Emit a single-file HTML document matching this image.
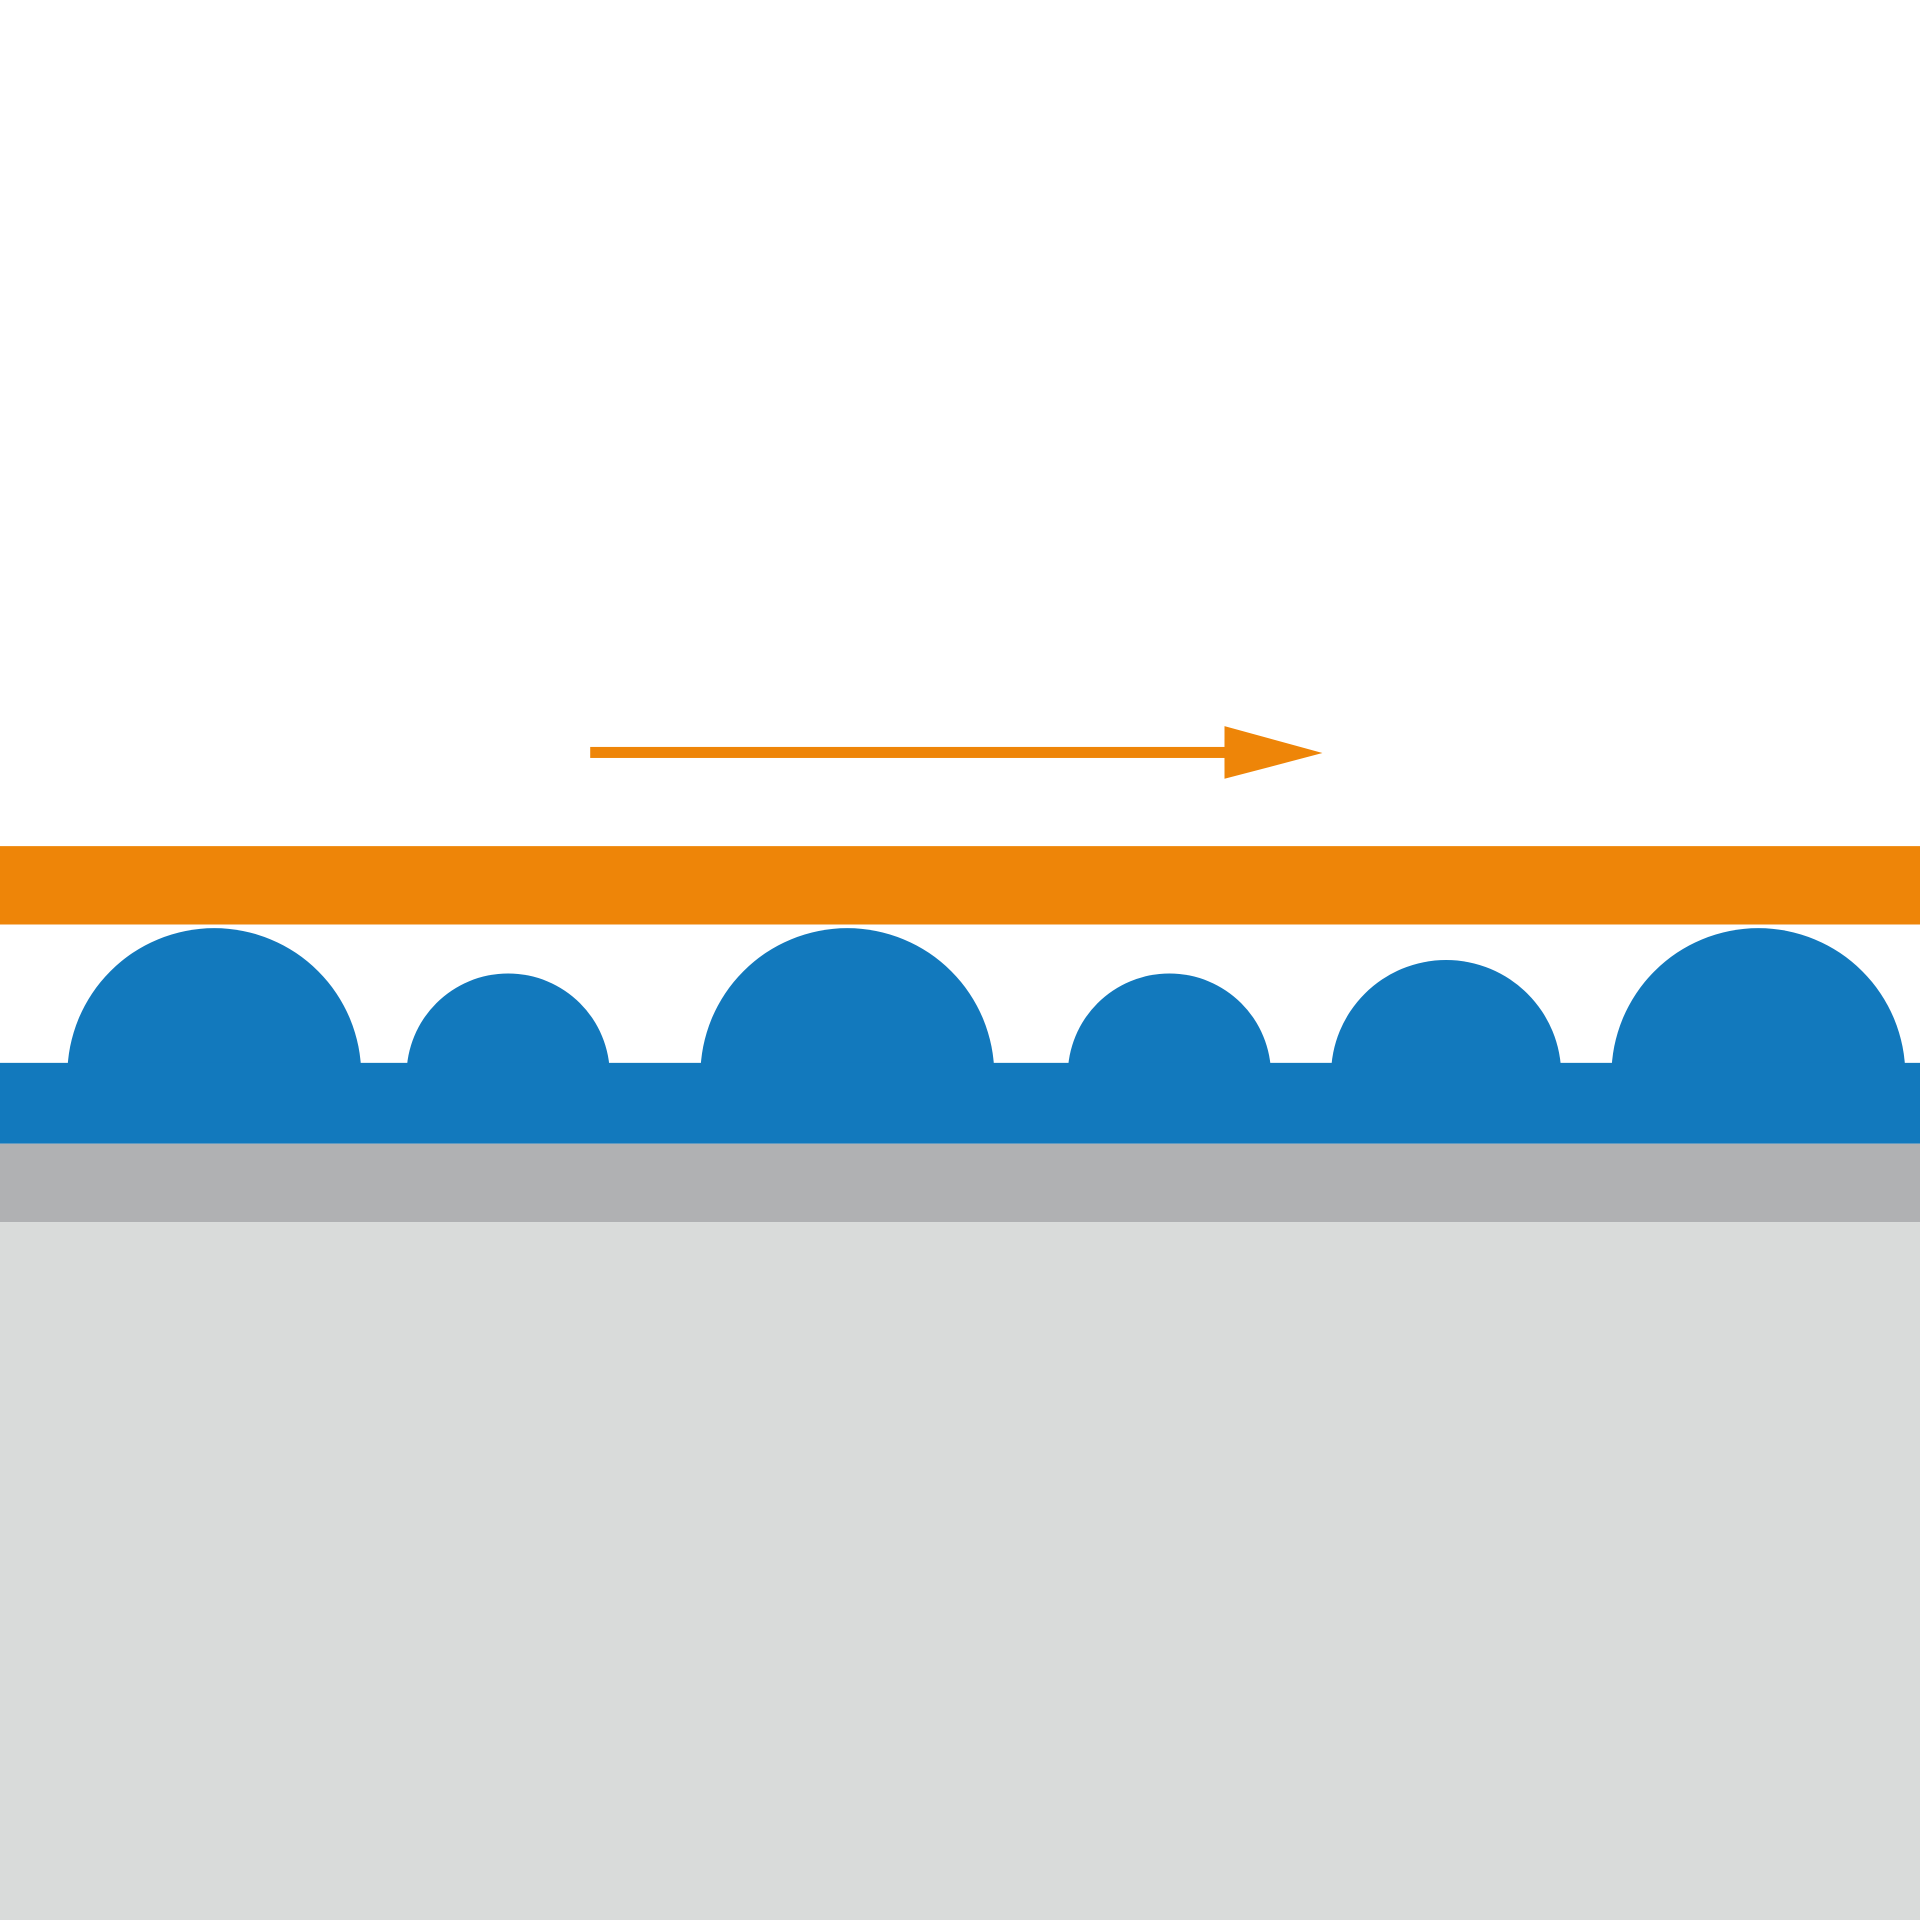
<!DOCTYPE html>
<html>
<head>
<meta charset="utf-8">
<style>
html,body{margin:0;padding:0;background:#fff;}
svg{display:block;}
</style>
</head>
<body>
<svg width="1920" height="1920" viewBox="0 0 1568 1568" xmlns="http://www.w3.org/2000/svg">
  <defs>
    <clipPath id="c"><rect x="0" y="700" width="1568" height="170"/></clipPath>
  </defs>
  <rect x="0" y="0" width="1568" height="1568" fill="#ffffff"/>
  <rect x="482" y="610" width="520" height="9" fill="#ee8508"/>
  <polygon points="1000,593 1080,615 1000,636" fill="#ee8508"/>
  <rect x="0" y="691" width="1568" height="64" fill="#ee8508"/>
  <g fill="#1279bd" clip-path="url(#c)">
    <circle cx="175" cy="878" r="120"/>
    <circle cx="415" cy="878" r="83"/>
    <circle cx="692" cy="878" r="120"/>
    <circle cx="955" cy="878" r="83"/>
    <circle cx="1181" cy="878" r="94"/>
    <circle cx="1436" cy="878" r="120"/>
  </g>
  <rect x="0" y="868" width="1568" height="66" fill="#1279bd"/>
  <rect x="0" y="934" width="1568" height="64" fill="#b0b1b3"/>
  <rect x="0" y="998" width="1568" height="570" fill="#d9dbda"/>
</svg>
</body>
</html>
